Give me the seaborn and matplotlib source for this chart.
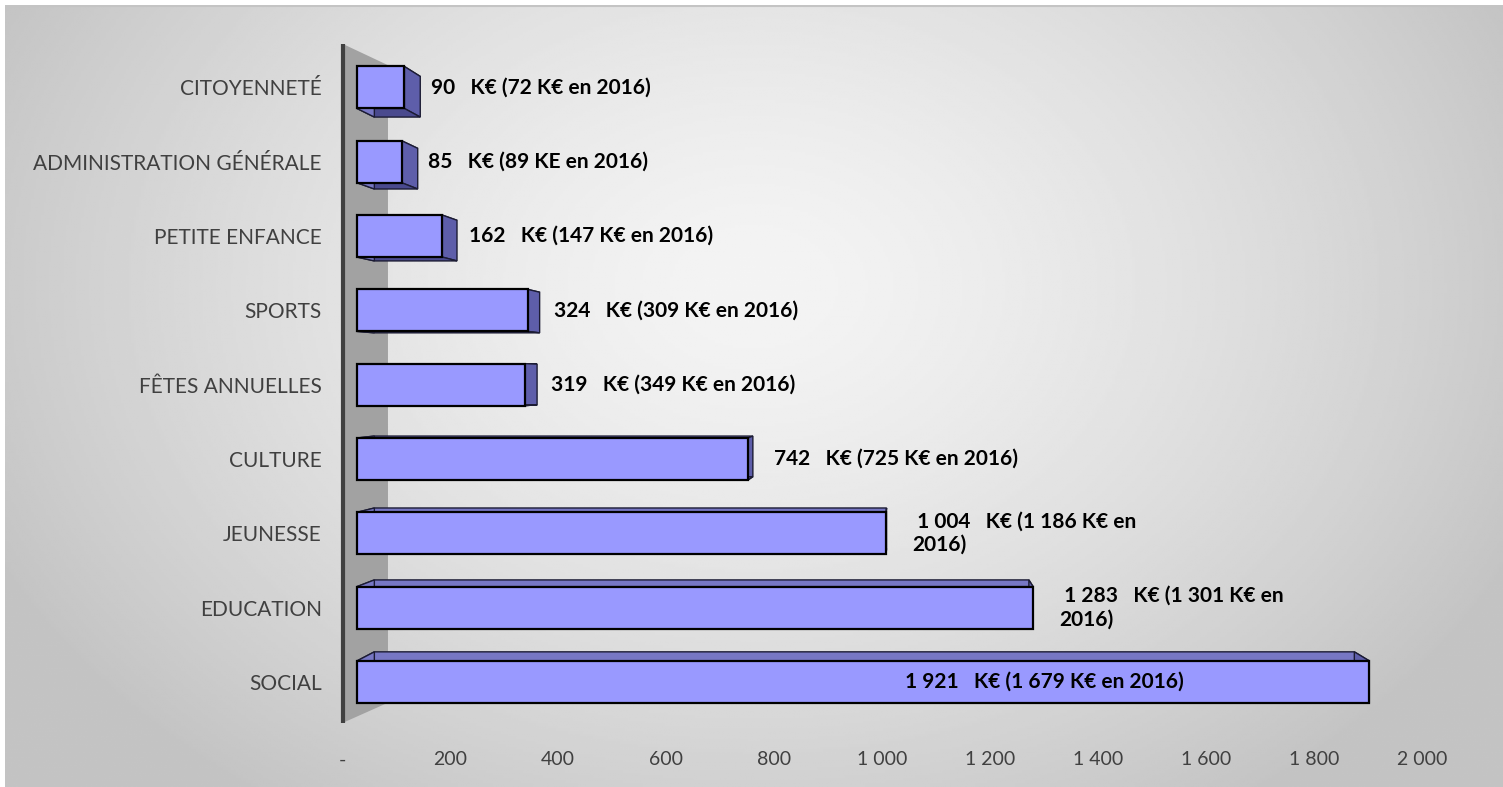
import numpy as np
import pandas as pd
import matplotlib
matplotlib.use("Agg")
import matplotlib.pyplot as plt
from matplotlib.patches import Polygon
import seaborn as sns

# values (K€)
categories = ["CITOYENNETÉ", "ADMINISTRATION GÉNÉRALE", "PETITE ENFANCE", "SPORTS",
              "FÊTES ANNUELLES", "CULTURE", "JEUNESSE", "EDUCATION", "SOCIAL"]
budget_2017 = [90, 85, 162, 324, 319, 742, 1004, 1283, 1921]
budget_2016 = [72, 89, 147, 309, 349, 725, 1186, 1301, 1679]
unit_2016 = ["K€", "KE", "K€", "K€", "K€", "K€", "K€", "K€", "K€"]
wrapped = [False, False, False, False, False, False, True, True, False]
inside = [False, False, False, False, False, False, False, False, True]
x_ticks = [0, 200, 400, 600, 800, 1000, 1200, 1400, 1600, 1800, 2000]

BAR = "#9999FF"


def fr(v):
    return f"{v:,}".replace(",", " ")


def make_label(v, p, u, wrap):
    if wrap:
        return f" {fr(v)}   K€ ({fr(p)} {u} en\n2016)"
    return f"{fr(v)}   K€ ({fr(p)} {u} en 2016)"


sns.set_style("white")
plt.rcParams["font.family"] = ["Lato", "DejaVu Sans"]

W, H = 1503, 787
fig = plt.figure(figsize=(W / 100, H / 100), dpi=100)

# gradient background
bg = fig.add_axes([5 / W, 0, 1498 / W, 782 / H], zorder=-2)
gx, gy = np.meshgrid(np.linspace(0, 1, 600), np.linspace(0, 1, 300))
d = np.sqrt(((gx - 0.5) / 0.56) ** 2 + ((gy - 0.36) / 0.80) ** 2)
grad = (244 - (244 - 196) * np.clip(d, 0, 1) ** 1.4) / 255
bg.imshow(grad, extent=[0, 1, 0, 1], aspect="auto", cmap="gray", vmin=0, vmax=1, origin="upper")
bg.plot([0, 1], [0.999, 0.999], color="#c4c4c4", lw=1.5, transform=bg.transAxes)
bg.set_axis_off()

ax = fig.add_axes([330 / W, 1 - 725 / H, 1130 / W, 683 / H])
ax.set_facecolor("none")

df = pd.DataFrame({"category": categories, "value": budget_2017})
sns.barplot(data=df, x="value", y="category", orient="h", color=BAR, saturation=1,
            width=0.565, edgecolor="black", linewidth=1.6, ax=ax)

ax.set_xlim(-51.2, 2093)
ax.set_ylim(8.58, -0.612)

# back wall
wall = Polygon([(-26.6, -0.585), (58.8, -0.30), (58.8, 8.28), (-26.6, 8.55)],
               closed=True, facecolor="#a2a2a2", edgecolor="none", zorder=1)
ax.add_patch(wall)
ax.plot([-26.6, -26.6], [-0.585, 8.55], color="#404040", lw=3, zorder=1.5,
        solid_capstyle="butt")

# pseudo 3D faces behind each bar
vp = np.array([1030.0, 3.9])
k = 0.032
face_cols = ["#7777c4", "#5e5eaa", "#4a4a8e", "#7777c4"]
for rect in list(ax.patches):
    if rect is wall:
        continue
    x0, y0 = rect.get_x(), rect.get_y()
    x1, y1 = x0 + rect.get_width(), y0 + rect.get_height()
    front = np.array([(x0, y0), (x1, y0), (x1, y1), (x0, y1)])
    back = front + k * (vp - front)
    for j in range(4):
        quad = [front[j], front[(j + 1) % 4], back[(j + 1) % 4], back[j]]
        ax.add_patch(Polygon(quad, closed=True, facecolor=face_cols[j],
                             edgecolor="#1c1c34", lw=1.0, zorder=3))
    rect.set_zorder(4)

# data labels
for i, (v, p, u) in enumerate(zip(budget_2017, budget_2016, unit_2016)):
    txt = make_label(v, p, u, wrapped[i])
    if inside[i]:
        ax.text(1040, i, txt, ha="left", va="center", fontsize=15, fontweight="bold",
                color="black", zorder=6)
    else:
        ax.text(v + 50, i, txt, ha="left", va="center", fontsize=15, fontweight="bold",
                color="black", linespacing=1.2, zorder=6)

ax.set_xlabel("")
ax.set_ylabel("")
ax.set_xticks([])
ax.tick_params(axis="y", length=0, pad=6, labelsize=15, labelcolor="#404040")
for s in ax.spines.values():
    s.set_visible(False)

# value axis (labels sit slightly offset from the front faces, as in the 3D original)
sec = ax.secondary_xaxis("bottom",
                         functions=(lambda x: (15 + 0.527 * x) / 0.54,
                                    lambda v: (0.54 * v - 15) / 0.527))
sec.set_xticks(x_ticks)
sec.set_xticklabels(["-" if t == 0 else fr(t) for t in x_ticks])
sec.tick_params(length=0, pad=19, labelsize=14, labelcolor="#404040")
for s in sec.spines.values():
    s.set_visible(False)

fig.savefig("out.png", dpi=100)
